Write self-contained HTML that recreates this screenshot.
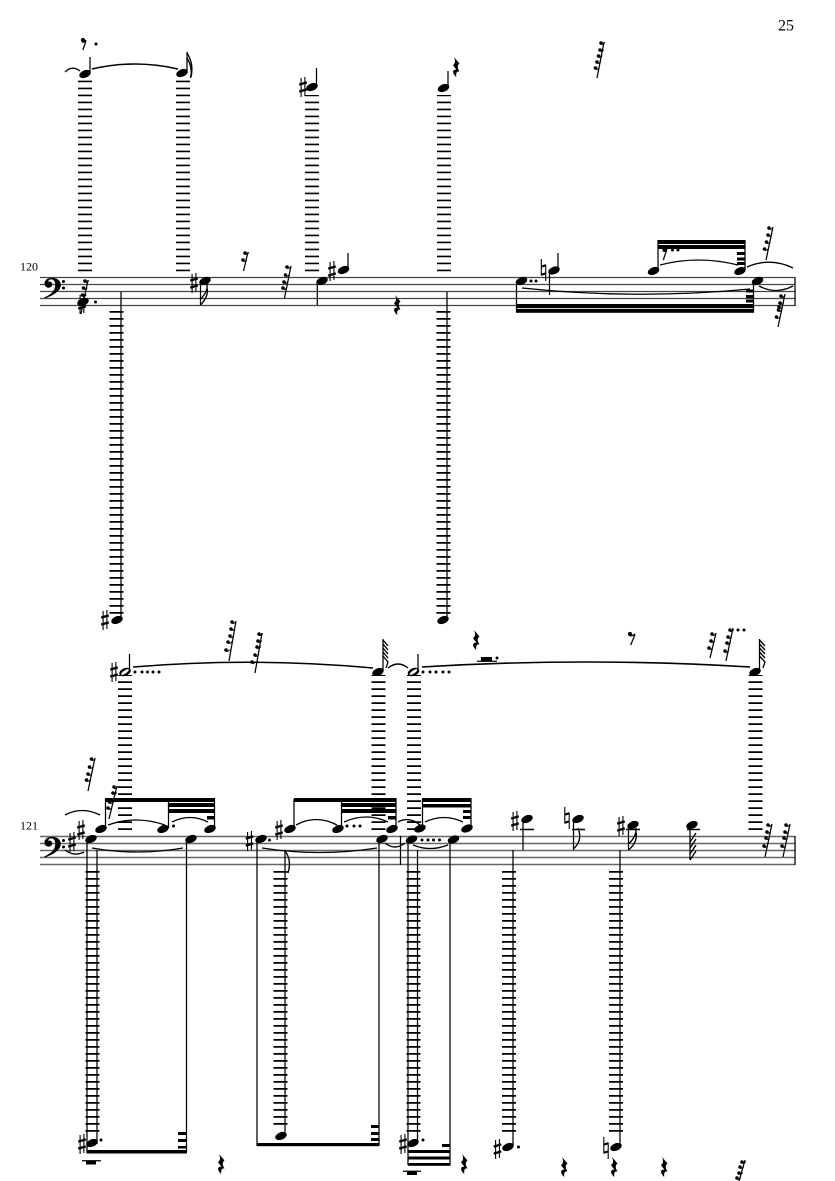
<!DOCTYPE html>
<html><head><meta charset="utf-8"><style>
html,body{margin:0;padding:0;background:#fff}
svg{display:block}
text{font-family:"Liberation Serif",serif;fill:#000}
.st{stroke:#444;stroke-width:1.3;fill:none}
.s{stroke:#000;stroke-width:1.25;fill:none}
.b{fill:#000}
.t{stroke:#000;stroke-width:1.35;fill:none}
.l{stroke:#000;stroke-dasharray:1.7 5.3;fill:none}
</style></head><body>
<svg width="835" height="1181" viewBox="0 0 835 1181" xmlns="http://www.w3.org/2000/svg">
<defs>
<ellipse id="h" rx="6" ry="3.7" transform="rotate(-22)" fill="#000"/>
<g id="hh"><ellipse rx="6" ry="3.8" transform="rotate(-22)" fill="#000"/><ellipse rx="4.6" ry="1.5" transform="rotate(-35)" fill="#fff"/></g>
<g id="sh" stroke="#000" fill="none"><path d="M-1.9 -9V10M1.9 -10V9" stroke-width="1.1"/><path d="M-3.8 -2.4L3.8 -4.6M-3.8 4.6L3.8 2.4" stroke-width="2.3"/></g>
<g id="na" stroke="#000" fill="none"><path d="M-2.2 -11V5.500M2.200 -5.500V11" stroke-width="1.1"/><path d="M-2.2 -3.4L2.2 -4.8M-2.2 4.8L2.2 3.4" stroke-width="2.1"/></g>
<g id="d"><circle r="1.8" fill="#000"/><path d="M0 1.200Q2.200 2 3.800 -.4" stroke="#000" stroke-width="1" fill="none"/></g>
<circle id="o" r="1.5" fill="#000"/>
<path id="q" d="M2 0L7.5 6.500Q4 9 7.500 14.500Q3.600 13.400 4.200 20Q-.6 15.500 2 13L4.300 12.500L1 8.300Q4.600 5.500 2 0Z" fill="#000"/>
<g id="clef"><path d="M6.500 0C11.500 -.6 17 1.600 16.800 7.500C16.400 13.500 8 18 .8 20.500L.2 19.500C6 17 11 13.500 11.300 7C11.500 2.700 9 1 6.700 1.400C5 1.800 4 3 4.200 3.800C5.800 3 8.200 4 8.200 6.400C8.200 8.500 6.300 9.700 4.500 9.700C2.200 9.700 .5 7.800 .5 5.400C.5 2.400 3.300 .3 6.500 0Z" fill="#000"/><circle cx="19.500" cy="3.500" r="1.500" fill="#000"/><circle cx="19.500" cy="10" r="1.500" fill="#000"/></g>
</defs>

<!-- text -->
<text x="778" y="30.500" font-size="16">25</text>
<text x="20" y="270.500" font-size="12">120</text>
<text x="20" y="829.500" font-size="12">121</text>

<!-- staves -->
<path class="st" d="M40 277.500H795M40 284.500H795M40 291.500H795M40 298.500H795M40 305.500H795"/>
<path class="st" d="M40 836.500H795M40 843.500H795M40 850.500H795M40 857.500H795M40 864.500H795" style="stroke-width:1.5;stroke:#666"/>
<path class="s" d="M795 277V306M795 836V865"/>
<use href="#clef" x="44" y="278"/>
<use href="#clef" x="44" y="837"/>

<!-- system 1 ledger columns -->
<g class="l">
<path stroke-width="14" d="M85 271.300V80"/>
<path stroke-width="14" d="M183 271.300V80"/>
<path stroke-width="14" d="M312 271.300V95"/>
<path stroke-width="14" d="M444 271.300V95"/>
<path stroke-width="14" d="M116.500 311V614"/>
<path stroke-width="14" d="M443.500 311V614"/>
</g>

<!-- system 1 top -->
<use href="#h" x="85" y="74"/><path class="s" d="M90 57V74"/>
<use href="#h" x="182" y="73"/><path class="s" d="M187 52V73"/><path class="t" d="M187 53Q194 64 191 77"/><path class="t" d="M187 58Q193 68 190.500 78"/>
<use href="#h" x="312" y="87"/><path class="s" d="M316.500 68V87"/><use href="#sh" x="303" y="87"/>
<use href="#h" x="443.500" y="88"/><path class="s" d="M448 71V88"/>
<use href="#q" x="452" y="57"/>
<path class="t" d="M65 72Q72 65 80 71"/><path class="t" style="stroke-width:1.6" d="M92 69Q135 59 178 69"/>
<!-- 8th rest top -->
<circle cx="83" cy="40" r="2.100" class="b"/><path class="s" d="M82.800 50L86 41M82 42Q84 43 86 40"/><use href="#o" x="96" y="44"/>
<!-- top 5 rest -->
<path class="s" d="M597 78L604 42"/><use href="#d" x="601" y="43"/><use href="#d" x="600" y="50"/><use href="#d" x="598.500" y="56"/><use href="#d" x="597" y="62"/><use href="#d" x="595.500" y="68"/>

<!-- system 1 staff notes -->
<path class="s" d="M121 292V617"/><use href="#h" x="117" y="620"/><use href="#sh" x="105" y="620"/>
<path class="s" d="M447 292V617"/><use href="#h" x="443" y="620"/>
<!-- cluster -->
<use href="#h" x="83" y="302"/><use href="#sh" x="82" y="304"/><use href="#o" x="95.500" y="302"/>
<path class="s" d="M81 314L88 280"/><use href="#d" x="85" y="281"/><use href="#d" x="83.500" y="288"/><use href="#d" x="82.500" y="295"/><use href="#d" x="81" y="301"/>
<!-- g# -->
<use href="#h" x="205" y="281"/><use href="#sh" x="194" y="283"/><path class="s" d="M200.500 282V305"/><path class="t" d="M200.500 305Q209 296 207 288M200.500 299Q208 292 207 284"/>
<path class="s" d="M243.500 271L248 252"/><use href="#d" x="245" y="253"/><use href="#d" x="243" y="260"/>
<path class="s" d="M284.500 298L291 266"/><use href="#d" x="287" y="267"/><use href="#d" x="285.500" y="275"/><use href="#d" x="284" y="282"/><use href="#d" x="283" y="288"/>
<use href="#h" x="322" y="281"/><path class="s" d="M317.300 282V305"/>
<use href="#h" x="343.500" y="270"/><path class="s" d="M348 253V270"/><use href="#sh" x="332" y="271"/>
<use href="#q" x="393" y="295"/>
<!-- beamed group right -->
<use href="#h" x="521.500" y="281"/><use href="#o" x="531" y="281"/><use href="#o" x="536" y="281"/>
<path class="s" d="M516.500 282V312"/>
<rect class="b" x="516" y="304" width="238" height="4"/><rect class="b" x="516" y="308.800" width="238" height="4"/>
<path class="s" d="M753.500 282V312"/>
<rect class="b" x="746" y="289.500" width="8" height="3"/><rect class="b" x="746" y="295" width="8" height="3"/><rect class="b" x="746" y="299.500" width="8" height="3"/>
<use href="#h" x="757.500" y="281"/>
<use href="#na" x="543.500" y="270"/><use href="#h" x="554" y="270.500"/><path class="s" d="M558 253V270M549.500 271V295"/>
<path class="t" d="M522 288Q636 300 750 289"/>
<use href="#h" x="653.500" y="271"/><use href="#h" x="740" y="271"/>
<path class="s" d="M658 240V270M745 240V270"/>
<rect class="b" x="658" y="240" width="87.500" height="4"/><rect class="b" x="658" y="245" width="87.500" height="4"/>
<rect class="b" x="737" y="252" width="8" height="3"/><rect class="b" x="737" y="257.500" width="8" height="3"/><rect class="b" x="737" y="262" width="8" height="3"/>
<circle cx="664.500" cy="250" r="2" class="b"/><path class="s" d="M663.300 260L667 249"/><use href="#o" x="672.500" y="250"/><use href="#o" x="678" y="250"/>
<path class="t" d="M660 265Q698 255 738 265"/>
<path class="t" d="M747 267Q770 257 793 268"/>
<path class="t" d="M759 286Q776 295 793 286"/>
<path class="s" d="M766 260L773 227"/><use href="#d" x="769" y="228"/><use href="#d" x="768" y="235"/><use href="#d" x="766.500" y="242"/><use href="#d" x="764.500" y="249"/>
<path class="s" d="M778 327L785 294"/><use href="#d" x="781" y="296"/><use href="#d" x="780" y="303"/><use href="#d" x="778.500" y="310"/><use href="#d" x="776.500" y="317"/><use href="#d" x="779" y="307"/>

<!-- system 2 top ledger columns -->
<g class="l">
<path stroke-width="14" d="M125 830V675"/>
<path stroke-width="14" d="M378.500 830V675"/>
<path stroke-width="14" d="M414 830V675"/>
<path stroke-width="14" d="M755.500 830V675"/>
<path stroke-width="14" d="M92.500 871V1134"/>
<path stroke-width="14" d="M280.500 871V1127"/>
<path stroke-width="14" d="M413.500 871V1134"/>
<path stroke-width="14" d="M509 871V1134"/>
<path stroke-width="14" d="M616 871V1134"/>
</g>
<path class="s" style="stroke-width:1.6" d="M520 829.500H534M572 829.500H585M626 829.500H640M687 829.500H700"/>

<!-- top notes system 2 -->
<use href="#hh" x="125" y="672"/><path class="s" d="M129.500 654V671"/><use href="#sh" x="114" y="672"/>
<use href="#o" x="135" y="672"/><use href="#o" x="142" y="672"/><use href="#o" x="147.500" y="672"/><use href="#o" x="153" y="672"/><use href="#o" x="159" y="672"/>
<use href="#h" x="378" y="672"/><path class="s" d="M383 639V671"/>
<path class="t" d="M383 640L388 646M383 644L388 650M383 648L388 654M383 652L388 658M383 656L388 662L386 668"/>
<use href="#hh" x="413.500" y="672"/><path class="s" d="M418 654V671"/>
<use href="#o" x="423" y="672"/><use href="#o" x="430" y="672"/><use href="#o" x="436" y="672"/><use href="#o" x="443" y="672"/><use href="#o" x="449" y="672"/>
<use href="#h" x="755" y="672"/><path class="s" d="M759.500 639V671"/>
<path class="t" d="M759.500 640L765 646M759.500 644L765 650M759.500 648L765 654M759.500 652L765 658M759.500 656L765 662L763 668"/>
<path class="t" style="stroke-width:1.6" d="M133 667Q252 657 373 668"/>
<path class="t" d="M388 668Q398 660 408 668"/>
<path class="t" style="stroke-width:1.6" d="M422 667Q586 657 750 667"/>
<!-- upper rests sys 2 -->
<path class="s" d="M229 661L236 621"/><use href="#d" x="232" y="622"/><use href="#d" x="231" y="629"/><use href="#d" x="230" y="636"/><use href="#d" x="228" y="642"/><use href="#d" x="226" y="650"/>
<path class="s" d="M255 673L262 633"/><use href="#d" x="259" y="634"/><use href="#d" x="258" y="641"/><use href="#d" x="257" y="647"/><use href="#d" x="255" y="655"/><use href="#d" x="252" y="662"/>
<use href="#q" x="472" y="630"/>
<rect class="b" x="481" y="657" width="11" height="4"/><path class="s" d="M477 661.300H497"/><use href="#o" x="497" y="658"/>
<circle cx="630" cy="634" r="2.100" class="b"/><path class="s" d="M630.700 645L635 634.500M629 635Q632 637 635 634"/>
<path class="s" d="M710 658L716 633"/><use href="#d" x="712" y="634"/><use href="#d" x="711" y="641"/><use href="#d" x="709" y="648"/>
<path class="s" d="M726 661L733 628"/><use href="#d" x="730" y="630"/><use href="#d" x="728" y="637"/><use href="#d" x="727" y="643"/><use href="#d" x="725" y="651"/>
<use href="#o" x="738" y="630"/><use href="#o" x="744" y="630"/>

<!-- sys2 first group -->
<path class="s" d="M95 758L88 791"/><use href="#d" x="91.500" y="759"/><use href="#d" x="89.500" y="767"/><use href="#d" x="88" y="774"/><use href="#d" x="86.500" y="780"/>
<path class="s" d="M117 786L109 819"/><use href="#d" x="114" y="787"/><use href="#d" x="113" y="793"/><use href="#d" x="109.500" y="802"/><use href="#d" x="108" y="808"/>
<use href="#sh" x="72" y="842"/><use href="#sh" x="81" y="830"/>
<use href="#h" x="91" y="839"/><use href="#h" x="191" y="839"/>
<path class="s" d="M87 840V1152M97 850V1144M186.500 840V1152"/>
<rect class="b" x="86.500" y="1150" width="100.500" height="3.500"/>
<rect class="b" x="178" y="1132" width="8.500" height="3"/><rect class="b" x="178" y="1139" width="8.500" height="3"/><rect class="b" x="178" y="1146" width="8.500" height="2.500"/>
<use href="#h" x="92" y="1143"/><use href="#sh" x="82" y="1144"/><use href="#o" x="101" y="1140"/>
<path class="s" d="M82 1160.800H101"/><rect class="b" x="86" y="1161" width="10" height="3.500"/>
<use href="#q" x="217" y="1154"/>
<use href="#h" x="101" y="829"/><use href="#h" x="163" y="829"/><use href="#h" x="210" y="829"/>
<path class="s" d="M105.500 799V828M168.500 799V828M214.500 799V828"/>
<rect class="b" x="105" y="798" width="110" height="4"/><rect class="b" x="168" y="803" width="47" height="4"/><rect class="b" x="168" y="809" width="47" height="4"/><rect class="b" x="207" y="816" width="8" height="3.500"/>
<use href="#o" x="173.500" y="826"/>
<path class="t" d="M65 815Q82 806 100 815"/><path class="t" d="M65 850Q74 857 84 852"/>
<path class="t" d="M108 825Q136 815 165 825"/><path class="t" d="M172 822Q190 813 208 822"/>
<path class="t" d="M92 848Q138 856 183 848"/>

<!-- second group -->
<use href="#sh" x="249.500" y="841"/><use href="#h" x="261" y="839"/><use href="#o" x="269.500" y="840"/>
<path class="s" d="M257 840V1145"/>
<rect class="b" x="256.500" y="1143" width="123" height="3.200"/>
<use href="#sh" x="279" y="830"/><use href="#h" x="290" y="829"/><use href="#h" x="338" y="829"/><use href="#h" x="392" y="829"/>
<path class="s" d="M294 799V828M341.500 799V828M396 799V828"/>
<rect class="b" x="294" y="798" width="102.500" height="4"/><rect class="b" x="341" y="803" width="55.500" height="4"/><rect class="b" x="341" y="809" width="55.500" height="4"/><rect class="b" x="388" y="816" width="8" height="3.500"/>
<use href="#o" x="347" y="826"/><use href="#o" x="354" y="826"/><use href="#o" x="360" y="826"/>
<path class="t" d="M296 825Q316 814 337 825"/><path class="t" d="M344 822Q366 812 388 822"/>
<path class="t" d="M262 848Q320 857 377 848"/>
<path class="s" d="M285 850V1136"/><path class="t" d="M285 851Q292 860 288 873"/>
<use href="#h" x="281" y="1136"/>
<rect class="b" x="371" y="1125" width="8" height="3"/><rect class="b" x="371" y="1132" width="8" height="3"/><rect class="b" x="371" y="1138" width="8" height="3"/>
<use href="#h" x="382" y="839"/><path class="s" d="M379 840V1145"/>
<path class="t" d="M385 843Q395 851 405 843"/><path class="t" d="M398 822Q409 816 420 825"/>
<path class="s" d="M400.500 836V865"/>

<!-- third group -->
<use href="#h" x="411.500" y="839.500"/><use href="#h" x="453.500" y="839.500"/>
<path class="s" d="M408 840V1165M417.500 850V1144M450 840V1165"/>
<use href="#o" x="422" y="840"/><use href="#o" x="428" y="840"/><use href="#o" x="433.500" y="840"/><use href="#o" x="439.500" y="840"/>
<path class="t" d="M413 845Q430 852 448 845"/>
<use href="#h" x="420" y="828.500"/><use href="#h" x="467" y="828.500"/>
<path class="s" d="M422.500 799V827M471 799V827"/>
<rect class="b" x="422" y="798" width="49.500" height="4"/><rect class="b" x="422" y="804" width="49.500" height="3.500"/>
<rect class="b" x="463" y="810" width="8" height="3"/><rect class="b" x="463" y="816" width="8" height="3"/>
<path class="t" d="M425 822Q444 813 463 822"/>
<use href="#h" x="413" y="1143"/><use href="#sh" x="403" y="1144"/><use href="#o" x="423" y="1140"/>
<rect class="b" x="408" y="1150" width="42.500" height="3"/><rect class="b" x="408" y="1156.500" width="42.500" height="3"/><rect class="b" x="408" y="1163" width="42.500" height="2.800"/>
<rect class="b" x="442" y="1144" width="8" height="3"/>
<path class="s" d="M403 1171.300H421"/><rect class="b" x="407" y="1171.500" width="10" height="3.500"/>
<use href="#q" x="460" y="1154"/>

<!-- remaining notes -->
<use href="#h" x="527" y="819"/><use href="#sh" x="515" y="821"/><path class="s" d="M523 820V850"/>
<path class="s" d="M513 850V1146"/><use href="#h" x="508" y="1147"/><use href="#sh" x="497.500" y="1149"/><use href="#o" x="518.500" y="1147"/>
<use href="#h" x="578" y="819"/><use href="#na" x="567" y="818"/><path class="s" d="M573.500 820V850"/><path class="t" d="M573.500 849Q583 840 578 828"/>
<use href="#h" x="633" y="825"/><use href="#sh" x="621" y="826"/><path class="s" d="M628.500 826V850"/><path class="t" d="M628.500 850Q638 842 636 832M628.500 844Q637 836 636 828"/>
<path class="s" d="M620 850V1147"/><use href="#h" x="616" y="1147"/><use href="#na" x="606" y="1148"/>
<use href="#h" x="692" y="825"/><path class="s" d="M690 826V860"/><path class="t" d="M690 860L696 851M690 854L696 845M690 848L696 839M690 842L696 833"/>
<use href="#q" x="560" y="1157"/><use href="#q" x="610" y="1157"/><use href="#q" x="660" y="1157"/>
<path class="s" d="M738 1185L745 1160"/><use href="#d" x="742" y="1162"/><use href="#d" x="740" y="1167"/><use href="#d" x="739" y="1173"/><use href="#d" x="737" y="1178"/>
<path class="s" d="M765 857L772 824"/><use href="#d" x="768" y="825"/><use href="#d" x="767" y="832"/><use href="#d" x="766" y="838"/><use href="#d" x="764" y="846"/>
<path class="s" d="M783 857L790 824"/><use href="#d" x="786" y="825"/><use href="#d" x="785" y="832"/><use href="#d" x="784" y="838"/><use href="#d" x="782" y="846"/>
</svg>
</body></html>
